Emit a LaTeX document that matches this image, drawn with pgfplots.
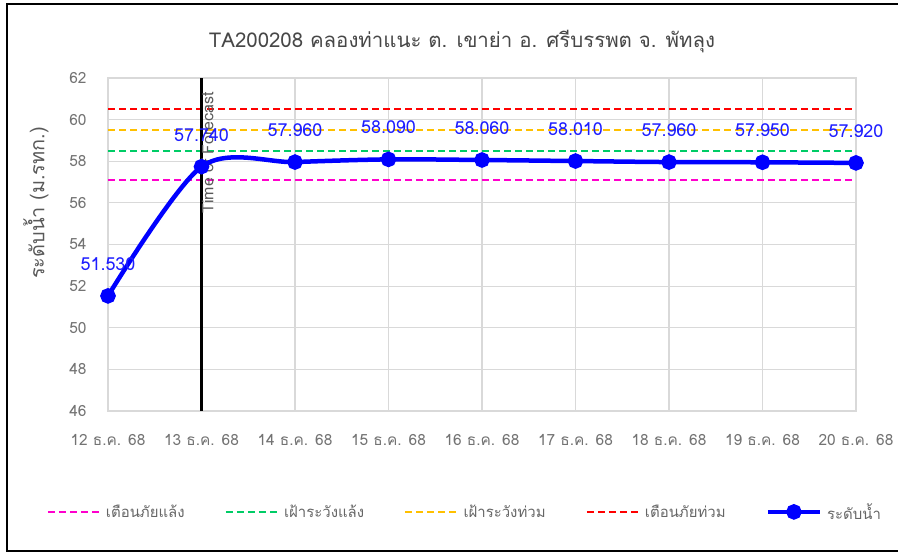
\documentclass[border=0pt]{standalone}
\usepackage{fontspec}
\setmainfont{Loma}[Script=Thai]
\usepackage{pgfplots}
\pgfplotsset{compat=1.18}
\usepackage{pgfplotstable}
\definecolor{cMag}{RGB}{255,0,204}
\definecolor{cGrn}{RGB}{0,204,102}
\definecolor{cOra}{RGB}{255,192,0}
\definecolor{cRed}{RGB}{255,0,0}
\definecolor{cBlu}{RGB}{0,0,255}
\definecolor{cLbl}{RGB}{30,30,255}
\pgfplotstableread{
x y
0 51.53
1 57.74
2 57.96
3 58.09
4 58.06
5 58.01
6 57.96
7 57.95
8 57.92
}\level
\begin{document}
\begin{tikzpicture}
\useasboundingbox (0,0) rectangle (898bp,553bp);
\fill[white] (0,0) rectangle (898bp,553bp);
\draw[line width=1.6bp] (898bp,549bp) -- (7bp,549bp) -- (7bp,2bp) -- (898bp,2bp);
\node[text=black!72, font=\fontsize{20.5}{20.5}\selectfont] at (462bp,511bp) {TA200208 คลองท่าแนะ ต. เขาย่า อ. ศรีบรรพต จ. พัทลุง};
\node[text=black!65, rotate=90, font=\fontsize{20}{20}\selectfont] at (36bp,350bp) {ระดับน้ำ (ม.รทก.)};
\begin{axis}[
  at={(108bp,142bp)}, anchor=south west,
  scale only axis, width=748bp, height=333bp,
  xmin=0, xmax=8, ymin=46, ymax=62,
  ytick={46,48,...,62},
  xtick={0,...,8},
  xticklabels={12 ธ.ค. 68,13 ธ.ค. 68,14 ธ.ค. 68,15 ธ.ค. 68,16 ธ.ค. 68,17 ธ.ค. 68,18 ธ.ค. 68,19 ธ.ค. 68,20 ธ.ค. 68},
  grid=major,
  grid style={black!15, line width=1.2bp},
  axis line style={black!15, line width=1.2bp},
  major tick length=0pt,
  /pgf/number format/assume math mode=true,
  tick label style={font=\fontsize{15.5}{15.5}\selectfont, text=black!55},
  yticklabel style={anchor=east, xshift=-18bp},
  xticklabel style={anchor=center, yshift=-29bp},
  legend columns=5,
  legend style={at={(0.477,-0.303)}, anchor=center, draw=none, fill=none,
    font=\fontsize{15}{15}\selectfont, text=black!60,
    /tikz/every even column/.append style={column sep=38bp},
    /tikz/every odd column/.append style={column sep=3bp}},
  legend image code/.code={\draw[mark repeat=2,mark phase=2,#1] plot coordinates {(0bp,0bp) (26bp,0bp) (52bp,0bp)};},
]
\addplot[cMag, line width=2.4bp, dash pattern=on 7bp off 4bp] coordinates {(0,57.1) (8,57.1)};
\addlegendentry{เตือนภัยแล้ง}
\addplot[cGrn, line width=2.4bp, dash pattern=on 7bp off 4bp] coordinates {(0,58.5) (8,58.5)};
\addlegendentry{เฝ้าระวังแล้ง}
\addplot[cOra, line width=2.4bp, dash pattern=on 7bp off 4bp] coordinates {(0,59.5) (8,59.5)};
\addlegendentry{เฝ้าระวังท่วม}
\addplot[cRed, line width=2.4bp, dash pattern=on 7bp off 4bp] coordinates {(0,60.5) (8,60.5)};
\addlegendentry{เตือนภัยท่วม}
\addplot[black, line width=2.2bp, forget plot] coordinates {(1,46) (1,62)};
\node[rotate=90, anchor=north west, inner sep=0pt, xshift=10bp, text=black!65, font=\fontsize{16}{16}\selectfont] at (axis cs:1,55.0) {Time of Forecast};
\addplot[cBlu, line width=4.5bp, smooth, tension=0.5, mark=*, mark size=5.5bp,
  mark options={solid},
  nodes near coords, point meta=y,
  every node near coord/.style={anchor=center, yshift=32bp, text=cLbl, font=\fontsize{18}{18}\selectfont,
    /pgf/number format/.cd, fixed, fixed zerofill, precision=3, assume math mode=true}
] table[x=x,y=y] {\level};
\addlegendentry{ระดับน้ำ}
\end{axis}
\end{tikzpicture}
\end{document}
